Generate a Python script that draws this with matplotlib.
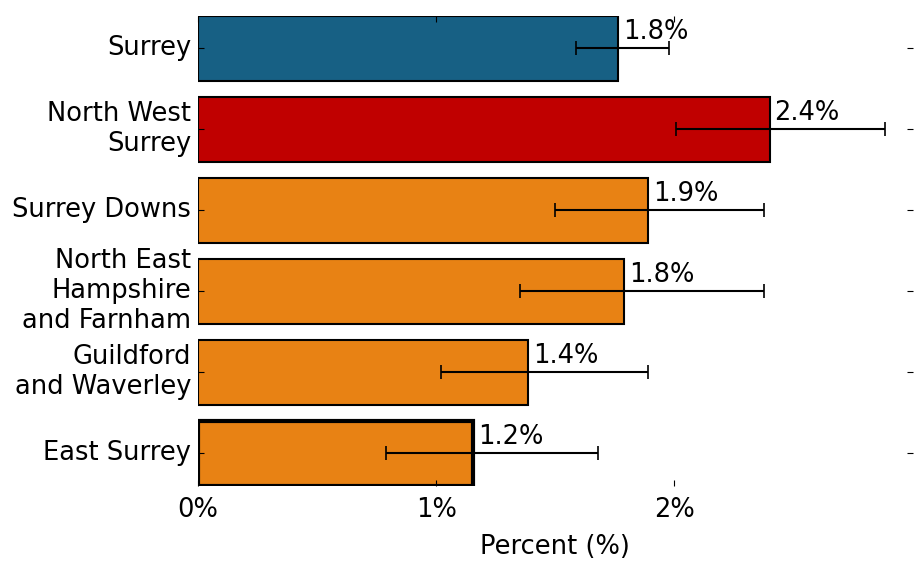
import numpy as np
import matplotlib
matplotlib.use("Agg")
import matplotlib.pyplot as plt

areas = ["Surrey", "North West\nSurrey", "Surrey Downs",
         "North East\nHampshire\nand Farnham", "Guildford\nand Waverley", "East Surrey"]
values = [1.765, 2.40, 1.89, 1.79, 1.385, 1.155]
lower = [1.585, 2.005, 1.50, 1.35, 1.02, 0.79]
upper = [1.975, 2.885, 2.375, 2.375, 1.89, 1.68]
labels = ["1.8%", "2.4%", "1.9%", "1.8%", "1.4%", "1.2%"]
colours = ["#176084", "#c00000", "#e88214", "#e88214", "#e88214", "#e88214"]
edge_widths = [1.5, 1.5, 1.5, 1.5, 1.5, 3.0]

plt.style.use("classic")
fig = plt.figure(figsize=(9.21, 5.73), dpi=100, facecolor="white")
ax = fig.add_axes([0.215, 0.152, 0.776, 0.820])

y = np.arange(len(areas))
vals = np.array(values)
err = [vals - np.array(lower), np.array(upper) - vals]

ax.barh(y, vals, height=0.8, color=colours, edgecolor="black",
        linewidth=edge_widths, align="center")
ax.errorbar(vals, y, xerr=err, fmt="none", ecolor="black",
            elinewidth=1.5, capsize=5, capthick=1.2)

fs = 18.5
for yi, v, lab in zip(y, vals, labels):
    ax.text(v + 0.02, yi - 0.04, lab, fontsize=fs, va="bottom", ha="left")

ax.set_xlim(0, 3)
ax.set_ylim(len(areas) - 0.6, -0.4)
ax.set_xticks([0, 1, 2])
ax.set_xticklabels(["0%", "1%", "2%"], fontsize=fs)
ax.set_yticks(y)
ax.set_yticklabels(areas, fontsize=fs)
ax.set_xlabel("Percent (%)", fontsize=fs, labelpad=8)
for s in ax.spines.values():
    s.set_visible(False)
ax.tick_params(axis="both", direction="in", length=4, width=0.8)
ax.tick_params(axis="x", pad=8)
ax.tick_params(axis="y", pad=5)

fig.savefig("out.png", dpi=100, facecolor="white")
